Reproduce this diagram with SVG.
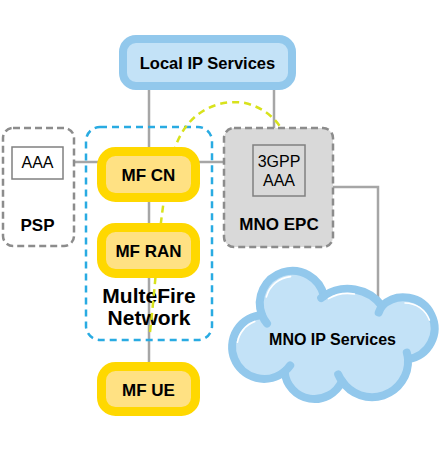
<svg xmlns="http://www.w3.org/2000/svg" width="444" height="453" viewBox="0 0 444 453">
<defs>
<style>
.t{font-family:"Liberation Sans",Arial,sans-serif;fill:#000;text-anchor:middle}
.b{font-weight:bold}
.gl{stroke:#a6a6a6;stroke-width:2.5;fill:none}
.yb{fill:#ffe183;stroke:#ffd800;stroke-width:9}
.cl{fill:#c3e2f7;stroke:#92c8ec;stroke-width:8}
.gd{stroke:#8c8c8c;stroke-width:2.5;stroke-dasharray:7 4}
.hl{fill:none;stroke:#fff;stroke-width:1.6;stroke-linecap:round}
</style>
</defs>
<rect width="444" height="453" fill="#fff"/>
<g id="connectors">
<line class="gl" x1="149" y1="88" x2="149" y2="364"/>
<line class="gl" x1="274" y1="88" x2="274" y2="129"/>
<line class="gl" x1="74" y1="162" x2="225" y2="162"/>
<polyline class="gl" points="333,187 378,187 378,300"/>
</g>
<g id="psp">
<rect class="gd" x="3" y="128" width="71" height="118" rx="10" fill="none"/>
<rect x="12" y="147" width="51" height="32" fill="#fff" stroke="#808080" stroke-width="1.5"/>
<text class="t" x="37.5" y="168" font-size="16">AAA</text>
<text class="t b" x="37.5" y="231" font-size="17">PSP</text>
</g>
<g id="multefire">
<rect x="86" y="127" width="126" height="213" rx="14" fill="none" stroke="#29abe2" stroke-width="2.5" stroke-dasharray="7 5"/>
<text class="t b" x="149" y="303" font-size="21">MulteFire</text>
<text class="t b" x="149" y="325" font-size="21">Network</text>
</g>
<g id="mno-epc">
<rect class="gd" x="224" y="128" width="109" height="119" rx="10" fill="#d9d9d9"/>
<rect x="253" y="145" width="52" height="51" fill="#d9d9d9" stroke="#808080" stroke-width="1.5"/>
<text class="t" x="279" y="167" font-size="16">3GPP</text>
<text class="t" x="279" y="186" font-size="16">AAA</text>
<text class="t b" x="279" y="230" font-size="17">MNO EPC</text>
</g>
<g id="auth-path">
<path d="M150,332 C158,262 160,195 176,145 C190,108 222,99 245,103 C262,107 274,117 281,128" fill="none" stroke="#d8e21c" stroke-width="2.5" stroke-dasharray="7 5"/>
</g>
<g id="local-ip">
<rect x="123" y="39" width="169" height="47" rx="13" fill="#c3e2f7" stroke="#92c8ec" stroke-width="8"/>
<text class="t b" x="207.5" y="69" font-size="16.5">Local IP Services</text>
</g>
<g id="mf-cn">
<rect class="yb" x="101.5" y="151.5" width="94" height="46" rx="14"/>
<text class="t b" x="148.5" y="181" font-size="17">MF CN</text>
</g>
<g id="mf-ran">
<rect class="yb" x="101.5" y="227.5" width="94" height="46" rx="14"/>
<text class="t b" x="148.5" y="257" font-size="17">MF RAN</text>
</g>
<g id="mf-ue">
<rect class="yb" x="101.5" y="366.5" width="94" height="45" rx="14"/>
<text class="t b" x="148.5" y="396" font-size="17">MF UE</text>
</g>
<g id="mno-ip">
<path class="cl" stroke-linejoin="round" d="M262,315 A32.5,32.5 0 1 1 324,296 A43,43 0 0 1 382,306 A31,31 0 1 1 408,359 A36,36 0 0 1 342,381 A30,30 0 0 1 284.6,371.5 A32,32 0 1 1 262,315 Z"/>
<g fill="none" stroke="#92c8ec" stroke-width="8" stroke-linecap="round">
<path d="M262,315 A32.5,32.5 0 0 0 267,323.6"/>
<path d="M324,296 A43,43 0 0 0 321.2,298"/>
<path d="M382,306 A31,31 0 0 0 378.7,312.6"/>
<path d="M408,359 A36,36 0 0 0 406.8,352.7"/>
<path d="M342,381 A36,36 0 0 1 338.2,374.3"/>
<path d="M284.6,371.5 A32,32 0 0 0 290.2,365.4"/>
</g>
<path class="hl" d="M237.4,342.3 A27,27 0 0 1 254.8,321.6"/>
<path class="hl" d="M266.4,296.9 A27.5,27.5 0 0 1 290.6,276.6"/>
<path class="hl" d="M328.4,298.6 A38.5,38.5 0 0 1 354.4,294"/>
<path class="hl" d="M405,303 A26,26 0 0 1 429.4,320.1"/>
<text class="t b" x="332.5" y="345" font-size="16">MNO IP Services</text>
</g>
</svg>
